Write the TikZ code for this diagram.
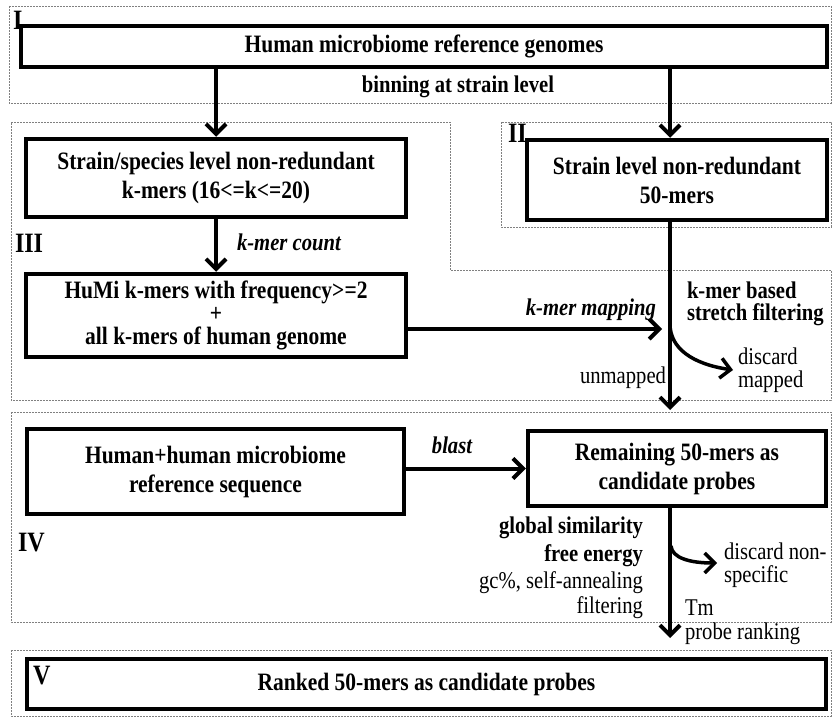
\documentclass[tikz,border=0pt]{standalone}
\usepackage{fontspec}
\setmainfont{Liberation Serif}[FakeStretch=0.86]
\usetikzlibrary{arrows.meta}

\begin{document}
\begin{tikzpicture}[x=1pt,y=-1pt,>={Straight Barb[length=10pt,width=20pt]},line width=4pt,
    font=\fontsize{24}{26}\selectfont]
  \tikzstyle{box}=[rectangle,draw,line width=4.5pt,fill=white,align=center,inner sep=0pt,font=\fontsize{25}{29}\selectfont\bfseries]
  \tikzstyle{region}=[draw=gray,line width=0.9pt,dash pattern=on 1.6pt off 1.4pt]
  \tikzstyle{roman}=[inner sep=0pt,font=\fontsize{28}{30}\selectfont\bfseries]
  \tikzstyle{note}=[inner sep=0pt]
  \tikzstyle{bnote}=[inner sep=0pt,font=\fontsize{24}{26}\selectfont\bfseries]
  \tikzstyle{inote}=[inner sep=0pt,font=\fontsize{24}{26}\selectfont\bfseries\itshape]
  \useasboundingbox (0,0) rectangle (832,717);
  % dotted regions
  \draw[region] (9,6) rectangle (831,103);
  \draw[region] (501,122) rectangle (831,227);
  \draw[region] (11,122) -- (450,122) -- (450,270) -- (831,270) -- (831,400) -- (11,400) -- cycle;
  \draw[region] (11,412) rectangle (831,622);
  \draw[region] (11,650) rectangle (831,716);
  % boxes
  \node[box,minimum width=806pt,minimum height=41pt] (genomes) at (424,46.5) {Human microbiome reference genomes};
  \node[box,minimum width=380pt,minimum height=78pt] (species) at (216,178) {Strain/species level non-redundant\\k-mers (16<=k<=20)};
  \node[box,minimum width=300pt,minimum height=80pt] (strain) at (677,180) {Strain level non-redundant\\50-mers};
  \node[box,minimum width=380pt,minimum height=83pt] (humi) at (216,315.5) {HuMi k-mers with frequency>=2\\[-6pt]+\\[-6pt]all k-mers of human genome};
  \node[box,minimum width=377pt,minimum height=85pt] (human) at (215.5,471.5) {Human+human microbiome\\reference sequence};
  \node[box,minimum width=298pt,minimum height=75pt] (remaining) at (677,468.5) {Remaining 50-mers as\\candidate probes};
  \node[box,minimum width=799pt,minimum height=50pt] (ranked) at (426.5,684) {Ranked 50-mers as candidate probes};
  % region labels
  \node[roman,anchor=west] (r1) at (11,20) {I};
  \node[roman,anchor=west] (r2) at (506,133) {II};
  \node[roman,anchor=west] (r3) at (13,243) {III};
  \node[roman,anchor=west] (r4) at (16,543) {IV};
  \node[roman,anchor=west] (r5) at (31,676) {V};
  % trunk coordinates
  \coordinate (cut) at (670,410);
  \coordinate (hit) at (662,329);
  \coordinate (fork) at (670,324);
  \coordinate (mapped) at (733,370);
  \coordinate (rank) at (670,638);
  \coordinate (fork2) at (671,546);
  \coordinate (nonspec) at (717,563);
  % arrows
  \draw[->] (genomes.south -| species.north) -- (species.north);
  \draw[->] (genomes.south -| cut) -- (strain.north -| cut);
  \draw[->] (species.south) -- (humi.north);
  \draw[->] (strain.south -| cut) -- (cut);
  \draw[->] (humi.east |- hit) -- (hit);
  \draw[->,line width=3.5pt] (fork) .. controls (670,348) and (692,364) .. (mapped);
  \draw[->] (human.east |- remaining.west) -- (remaining.west);
  \draw[->] (remaining.south -| rank) -- (rank);
  \draw[->,line width=3.5pt] (fork2) .. controls (672,558) and (690,563) .. (nonspec);
  % labels
  \node[bnote] (bin) at (458,87) {binning at strain level};
  \node[inote,anchor=west] (count) at (235,242) {k-mer count};
  \node[inote,anchor=east] (kmap) at (658,310) {k-mer mapping};
  \node[bnote,anchor=west] (kb1) at (685,290) {k-mer based};
  \node[bnote,anchor=west] (kb2) at (685,315) {stretch filtering};
  \node[note,anchor=west] (dm1) at (736,356) {discard};
  \node[note,anchor=west] (dm2) at (736,382) {mapped};
  \node[note,anchor=east] (unm) at (668,378) {unmapped};
  \node[inote] (bl) at (452,445) {blast};
  \node[bnote,anchor=east] (gs) at (645,528) {global similarity};
  \node[bnote,anchor=east] (fe) at (645,556) {free energy};
  \node[note,anchor=east] (gc) at (645,583) {gc\%, self-annealing};
  \node[note,anchor=east] (flt) at (645,608) {filtering};
  \node[note,anchor=west] (dn1) at (722,551) {discard non-};
  \node[note,anchor=west] (dn2) at (722,577) {specific};
  \node[note,anchor=west] (tm) at (683,608) {Tm};
  \node[note,anchor=west] (pr) at (683,634) {probe ranking};
\end{tikzpicture}
\end{document}
